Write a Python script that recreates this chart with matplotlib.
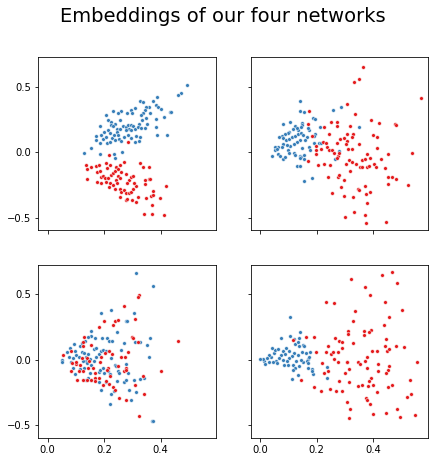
"""Four-network embedding scatter grid."""

import matplotlib
matplotlib.use("Agg")
import matplotlib.pyplot as plt
import numpy as np

BLUE = "#377eb8"
RED = "#e41a1c"

TITLE = "Embeddings of our four networks"
X_TICKS = [0.0, 0.2, 0.4]
Y_TICKS = [-0.5, 0.0, 0.5]

# panel 1 (top left)
p1_blue_x = [0.494, 0.471, 0.461, 0.388, 0.372, 0.329, 0.338, 0.385, 0.391, 0.358, 0.349, 0.346, 0.402,
             0.308, 0.296, 0.299, 0.282, 0.261, 0.232, 0.338, 0.332, 0.361, 0.432, 0.438, 0.412, 0.385,
             0.347, 0.335, 0.353, 0.324, 0.208, 0.214, 0.249, 0.258, 0.226, 0.238, 0.226, 0.232, 0.246,
             0.255, 0.244, 0.267, 0.279, 0.285, 0.296, 0.302, 0.289, 0.276, 0.296, 0.311, 0.320, 0.332,
             0.344, 0.185, 0.188, 0.173, 0.171, 0.185, 0.196, 0.205, 0.211, 0.220, 0.229, 0.238, 0.235,
             0.249, 0.253, 0.261, 0.269, 0.285, 0.294, 0.308, 0.322, 0.314, 0.326, 0.385, 0.388, 0.424,
             0.155, 0.128, 0.186, 0.235, 0.238, 0.265, 0.214, 0.199, 0.220]
p1_blue_y = [0.515, 0.457, 0.439, 0.426, 0.395, 0.393, 0.388, 0.362, 0.344, 0.349, 0.344, 0.324, 0.329,
             0.337, 0.324, 0.304, 0.298, 0.316, 0.314, 0.304, 0.286, 0.298, 0.311, 0.309, 0.273, 0.253,
             0.260, 0.247, 0.217, 0.217, 0.286, 0.247, 0.298, 0.247, 0.235, 0.217, 0.209, 0.202, 0.176,
             0.176, 0.158, 0.202, 0.196, 0.209, 0.209, 0.202, 0.181, 0.171, 0.171, 0.179, 0.191, 0.184,
             0.189, 0.202, 0.133, 0.125, 0.094, 0.069, 0.099, 0.115, 0.074, 0.082, 0.107, 0.094, 0.133,
             0.133, 0.099, 0.087, 0.115, 0.130, 0.107, 0.082, 0.087, 0.125, 0.115, 0.196, 0.133, 0.133,
             0.036, -0.008, -0.013, -0.013, -0.046, 0.000, 0.171, 0.158, 0.145]
p1_red_x = [0.285, 0.135, 0.140, 0.138, 0.155, 0.173, 0.181, 0.175, 0.185, 0.188, 0.196, 0.202, 0.176,
            0.188, 0.208, 0.211, 0.218, 0.220, 0.226, 0.214, 0.208, 0.220, 0.218, 0.232, 0.232, 0.238,
            0.241, 0.249, 0.255, 0.269, 0.261, 0.249, 0.255, 0.242, 0.246, 0.237, 0.255, 0.261, 0.269,
            0.276, 0.289, 0.296, 0.302, 0.314, 0.305, 0.289, 0.282, 0.296, 0.302, 0.279, 0.257, 0.279,
            0.281, 0.300, 0.314, 0.320, 0.328, 0.339, 0.358, 0.344, 0.344, 0.358, 0.361, 0.349, 0.367,
            0.372, 0.372, 0.369, 0.399, 0.420, 0.341, 0.371, 0.414]
p1_red_y = [0.077, -0.097, -0.128, -0.202, -0.110, -0.105, -0.097, -0.148, -0.140, -0.186, -0.181, -0.194,
            -0.224, -0.232, -0.079, -0.122, -0.020, -0.097, -0.173, -0.199, -0.224, -0.237, -0.268, -0.250,
            -0.161, -0.140, -0.110, -0.128, -0.097, -0.071, -0.148, -0.181, -0.194, -0.212, -0.237, -0.276,
            -0.283, -0.301, -0.288, -0.309, -0.309, -0.301, -0.283, -0.258, -0.237, -0.212, -0.237, -0.191,
            -0.181, -0.166, -0.339, -0.365, -0.357, -0.360, -0.378, -0.339, -0.079, -0.110, -0.115, -0.212,
            -0.245, -0.207, -0.207, -0.352, -0.332, -0.296, -0.327, -0.403, -0.352, -0.258, -0.467, -0.474,
            -0.477]

# panel 2 (top right)
p2_blue_x = [0.139, 0.141, 0.155, 0.285, 0.259, 0.186, 0.194, 0.212, 0.351, 0.079, 0.106, 0.124, 0.149,
             0.149, 0.145, 0.135, 0.129, 0.115, 0.100, 0.098, 0.086, 0.076, 0.067, 0.082, 0.091, 0.102,
             0.112, 0.124, 0.133, 0.145, 0.153, 0.171, 0.168, 0.165, 0.159, 0.141, 0.129, 0.118, 0.106,
             0.094, 0.082, 0.076, 0.062, 0.053, 0.051, 0.059, 0.041, 0.062, 0.071, 0.079, 0.088, 0.098,
             0.102, 0.118, 0.124, 0.139, 0.145, 0.156, 0.156, 0.139, 0.171, 0.176, 0.192, 0.194, 0.192,
             0.209, 0.215, 0.129, 0.139, 0.156, 0.182, 0.265, 0.280, 0.147]
p2_blue_y = [0.395, 0.316, 0.311, 0.349, 0.324, 0.265, 0.258, 0.196, 0.194, 0.217, 0.235, 0.202, 0.227,
             0.209, 0.191, 0.171, 0.184, 0.176, 0.158, 0.145, 0.140, 0.125, 0.115, 0.107, 0.094, 0.099,
             0.115, 0.125, 0.140, 0.151, 0.133, 0.171, 0.184, 0.120, 0.094, 0.094, 0.082, 0.064, 0.048,
             0.056, 0.061, 0.043, 0.043, 0.038, 0.018, 0.023, -0.028, -0.015, -0.028, -0.054, -0.033, 0.018,
             -0.008, -0.008, -0.020, -0.028, -0.038, -0.020, -0.054, -0.046, 0.038, 0.018, 0.074, 0.140, 0.125,
             0.074, 0.074, -0.102, -0.105, -0.219, -0.194, -0.054, 0.013, 0.031]
p2_red_x = [0.364, 0.331, 0.351, 0.568, 0.309, 0.174, 0.335, 0.394, 0.421, 0.478, 0.482, 0.252, 0.271,
            0.273, 0.319, 0.168, 0.227, 0.182, 0.245, 0.309, 0.329, 0.324, 0.296, 0.308, 0.282, 0.398,
            0.415, 0.224, 0.233, 0.196, 0.196, 0.196, 0.215, 0.235, 0.245, 0.253, 0.271, 0.304, 0.312,
            0.324, 0.351, 0.415, 0.262, 0.274, 0.271, 0.279, 0.168, 0.204, 0.226, 0.247, 0.304, 0.315,
            0.324, 0.318, 0.341, 0.354, 0.359, 0.361, 0.371, 0.379, 0.388, 0.379, 0.385, 0.404, 0.409,
            0.429, 0.451, 0.441, 0.539, 0.454, 0.468, 0.482, 0.451, 0.524, 0.241, 0.274, 0.280, 0.296,
            0.286, 0.255, 0.296, 0.329, 0.347, 0.349, 0.371, 0.388, 0.376, 0.380, 0.333, 0.300, 0.371,
            0.373, 0.445]
p2_red_y = [0.656, 0.536, 0.559, 0.413, 0.370, 0.319, 0.291, 0.247, 0.227, 0.217, 0.209, 0.235, 0.230,
            0.202, 0.204, 0.217, 0.196, 0.125, 0.138, 0.138, 0.138, 0.120, 0.107, 0.089, 0.099, 0.130,
            0.115, 0.082, 0.069, 0.048, 0.018, -0.015, 0.026, 0.043, 0.018, 0.018, 0.074, 0.061, 0.023,
            0.023, 0.066, 0.036, -0.003, -0.028, -0.046, -0.008, -0.066, -0.097, -0.089, -0.097, -0.092, -0.059,
            -0.071, -0.140, -0.089, -0.115, -0.110, -0.059, -0.054, -0.013, -0.046, -0.110, -0.105, -0.092,
            -0.110, -0.054, -0.013, -0.117, -0.003, -0.186, -0.191, -0.207, -0.242, -0.250, -0.186, -0.186,
            -0.176, -0.212, -0.263, -0.309, -0.332, -0.342, -0.276, -0.288, -0.253, -0.301, -0.319, -0.385,
            -0.452, -0.492, -0.482, -0.536, -0.533]

# panel 3 (bottom left)
p3_blue_x = [0.313, 0.373, 0.188, 0.226, 0.306, 0.276, 0.282, 0.155, 0.246, 0.308, 0.326, 0.363, 0.351,
             0.359, 0.269, 0.211, 0.219, 0.227, 0.193, 0.167, 0.155, 0.144, 0.132, 0.116, 0.093, 0.067,
             0.096, 0.100, 0.088, 0.074, 0.049, 0.049, 0.081, 0.088, 0.096, 0.112, 0.120, 0.128, 0.135,
             0.144, 0.135, 0.124, 0.140, 0.149, 0.155, 0.164, 0.173, 0.182, 0.188, 0.164, 0.173, 0.196,
             0.206, 0.128, 0.116, 0.149, 0.144, 0.135, 0.153, 0.181, 0.185, 0.196, 0.214, 0.220, 0.199,
             0.238, 0.241, 0.249, 0.253, 0.279, 0.285, 0.246, 0.182, 0.206, 0.188, 0.226, 0.235, 0.269,
             0.288, 0.279, 0.340, 0.326, 0.306, 0.312, 0.296, 0.222, 0.371, 0.375, 0.261, 0.226, 0.079,
             0.120]
p3_blue_y = [0.662, 0.567, 0.356, 0.382, 0.356, 0.293, 0.293, 0.221, 0.209, 0.135, 0.135, 0.165, 0.115,
             0.025, 0.132, 0.165, 0.145, 0.145, 0.170, 0.165, 0.183, 0.178, 0.145, 0.109, 0.120, 0.056,
             0.064, 0.038, 0.013, 0.025, 0.000, -0.013, -0.018, -0.064, -0.107, 0.025, 0.059, 0.051, 0.025,
             0.043, -0.008, -0.008, -0.025, 0.008, -0.038, -0.008, 0.025, 0.043, 0.069, 0.084, 0.089, 0.076,
             0.064, -0.059, -0.069, -0.102, -0.140, -0.153, -0.153, -0.094, -0.076, -0.059, -0.089, -0.109,
             -0.102, -0.038, -0.051, -0.084, -0.102, -0.033, -0.102, -0.160, -0.170, -0.170, -0.229, -0.262,
             -0.242, -0.173, -0.229, -0.153, -0.140, -0.148, -0.158, -0.249, -0.305, -0.338, -0.471, -0.466,
             0.076, 0.013, 0.094, 0.127]
p3_red_x = [0.322, 0.320, 0.269, 0.309, 0.199, 0.240, 0.249, 0.232, 0.182, 0.300, 0.461, 0.055, 0.081,
            0.124, 0.126, 0.129, 0.154, 0.100, 0.085, 0.082, 0.102, 0.114, 0.112, 0.126, 0.120, 0.140,
            0.147, 0.144, 0.161, 0.167, 0.167, 0.167, 0.155, 0.140, 0.124, 0.104, 0.182, 0.185, 0.188,
            0.202, 0.218, 0.229, 0.214, 0.210, 0.220, 0.206, 0.196, 0.216, 0.232, 0.238, 0.249, 0.261,
            0.273, 0.285, 0.276, 0.269, 0.253, 0.279, 0.302, 0.320, 0.338, 0.341, 0.400, 0.322, 0.309,
            0.279]
p3_red_y = [0.496, 0.478, 0.415, 0.310, 0.300, 0.298, 0.305, 0.267, 0.247, 0.173, 0.145, 0.033, 0.064,
            0.109, 0.135, 0.178, 0.115, -0.033, -0.025, -0.089, -0.013, -0.038, -0.089, -0.084, 0.013, 0.013,
            -0.008, -0.059, -0.064, -0.102, -0.140, -0.165, -0.153, -0.153, -0.153, -0.153, -0.140, -0.013,
            0.025, 0.051, 0.064, 0.043, -0.064, -0.076, -0.127, -0.160, -0.196, -0.186, -0.209, -0.229,
            -0.051, 0.025, 0.018, 0.059, -0.059, -0.089, -0.293, -0.308, 0.170, 0.135, -0.127, -0.262,
            -0.089, -0.433, -0.196, -0.076]

# panel 4 (bottom right)
p4_blue_x = [0.105, 0.073, 0.107, 0.118, 0.142, 0.138, 0.152, 0.136, 0.156, 0.148, 0.162, 0.168, 0.164,
             0.168, 0.152, 0.144, 0.132, 0.121, 0.112, 0.103, 0.093, 0.085, 0.097, 0.115, 0.124, 0.115,
             0.136, 0.132, 0.112, 0.100, 0.091, 0.081, 0.073, 0.067, 0.055, 0.061, 0.044, 0.038, 0.050,
             0.053, 0.041, 0.064, 0.030, 0.023, 0.014, 0.008, 0.000, 0.018, 0.032, 0.079, 0.088, 0.126,
             0.174, 0.177, 0.183, 0.188, 0.185, 0.168, 0.238, 0.236, 0.124, 0.132]
p4_blue_y = [0.325, 0.170, 0.185, 0.160, 0.211, 0.165, 0.114, 0.102, 0.102, 0.063, 0.051, 0.008, -0.008,
             -0.025, -0.013, 0.000, 0.038, 0.051, 0.030, 0.013, -0.008, -0.038, -0.038, -0.038, -0.063, -0.076,
             -0.051, -0.114, -0.147, 0.071, 0.094, 0.071, 0.038, 0.013, -0.008, -0.025, -0.018, 0.025, 0.051,
             0.076, 0.094, 0.081, 0.038, 0.013, -0.008, 0.005, 0.005, -0.033, -0.018, 0.000, 0.043, -0.008,
             0.025, 0.063, -0.071, -0.109, -0.089, -0.063, -0.056, -0.140, 0.119, 0.135]
p4_red_x = [0.115, 0.162, 0.192, 0.197, 0.144, 0.192, 0.216, 0.218, 0.227, 0.241, 0.233, 0.241, 0.250,
            0.256, 0.248, 0.268, 0.289, 0.280, 0.262, 0.274, 0.274, 0.266, 0.280, 0.288, 0.288, 0.234,
            0.263, 0.323, 0.336, 0.328, 0.310, 0.310, 0.327, 0.306, 0.309, 0.301, 0.316, 0.315, 0.309,
            0.319, 0.315, 0.372, 0.390, 0.431, 0.466, 0.486, 0.443, 0.501, 0.456, 0.438, 0.393, 0.369,
            0.369, 0.384, 0.446, 0.441, 0.449, 0.455, 0.481, 0.511, 0.414, 0.397, 0.380, 0.346, 0.354,
            0.371, 0.378, 0.416, 0.418, 0.391, 0.387, 0.381, 0.400, 0.360, 0.345, 0.414, 0.374, 0.378,
            0.388, 0.400, 0.444, 0.451, 0.466, 0.457, 0.452, 0.447, 0.531, 0.557, 0.534, 0.520, 0.485,
            0.495, 0.547]
p4_red_y = [0.152, 0.173, 0.178, 0.056, -0.155, -0.211, -0.241, -0.025, -0.102, -0.089, 0.058, 0.102, 0.043,
            0.063, -0.223, -0.241, -0.236, -0.160, 0.008, -0.013, 0.063, 0.170, 0.145, 0.135, 0.094, 0.442,
            0.437, 0.617, 0.373, 0.299, 0.223, 0.195, 0.127, -0.013, -0.015, -0.102, -0.071, -0.173, -0.325,
            -0.373, -0.447, 0.558, 0.492, 0.647, 0.668, 0.584, 0.439, 0.383, 0.325, 0.266, 0.228, 0.221,
            0.190, 0.211, 0.160, 0.109, 0.069, 0.084, 0.102, 0.099, 0.071, 0.066, 0.025, -0.013, -0.033,
            -0.008, -0.063, -0.033, -0.084, -0.140, -0.165, -0.203, -0.195, -0.195, -0.198, -0.249, -0.292,
            -0.305, -0.335, -0.411, -0.404, -0.211, -0.193, -0.051, -0.081, -0.102, -0.157, -0.020, -0.259,
            -0.284, -0.376, -0.439, -0.419]

PANELS = [
    (p1_blue_x, p1_blue_y, p1_red_x, p1_red_y),
    (p2_blue_x, p2_blue_y, p2_red_x, p2_red_y),
    (p3_blue_x, p3_blue_y, p3_red_x, p3_red_y),
    (p4_blue_x, p4_blue_y, p4_red_x, p4_red_y),
]


def main() -> None:
    plt.rcParams.update({"font.family": "DejaVu Sans", "font.size": 10})
    fig, axes = plt.subplots(2, 2, sharex=True, sharey=True, figsize=(436 / 72, 462 / 72), dpi=72)
    fig.subplots_adjust(left=0.088, right=0.982, top=0.876, bottom=0.053, wspace=0.2, hspace=0.2)
    for ax, (bx, by, rx, ry) in zip(axes.flat, PANELS):
        ax.scatter(bx, by, s=14, color=BLUE, edgecolors="white", linewidths=0.5, zorder=2)
        ax.scatter(rx, ry, s=14, color=RED, edgecolors="white", linewidths=0.5, zorder=2)
    ax = axes[0, 0]
    ax.set_xlim(-0.033, 0.595)
    ax.set_ylim(-0.594, 0.727)
    ax.set_xticks(X_TICKS)
    ax.set_yticks(Y_TICKS)
    fig.suptitle(TITLE, fontsize=19.5, x=0.511, y=0.984)
    fig.savefig("out.png", dpi=72)
    plt.close(fig)


if __name__ == "__main__":
    main()
